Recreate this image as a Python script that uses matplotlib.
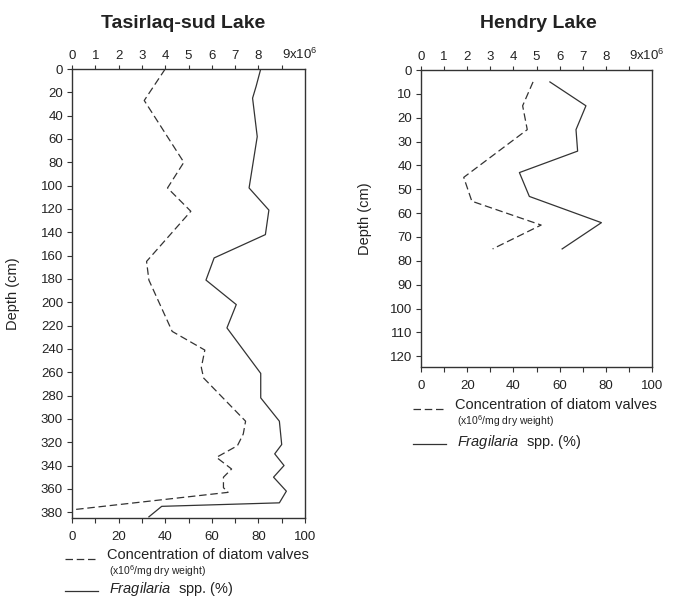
import numpy as np
import matplotlib
matplotlib.use('Agg')
import matplotlib.pyplot as plt
from matplotlib.lines import Line2D

plt.rcParams['font.family'] = ['Liberation Sans', 'DejaVu Sans']
plt.rcParams['mathtext.fontset'] = 'custom'
plt.rcParams['mathtext.rm'] = 'Liberation Sans'
plt.rcParams['mathtext.it'] = 'Liberation Sans:italic'

# Tasirlaq-sud Lake
tas_depth_frag = [0, 15, 25, 58, 102, 121, 142, 162, 181, 202, 222, 261, 282, 302,
                  322, 330, 340, 350, 362, 372, 375, 384]
tas_frag = [81, 79, 77.5, 79.5, 76, 84.5, 83, 61, 57.5, 70.5, 66.5, 81, 81, 89,
            90, 87, 91, 86.5, 92, 89, 38.5, 33]
tas_depth_conc = [0, 27, 80, 102, 122, 165, 181, 225, 241, 256, 265, 302, 313, 323,
                  333, 343, 350, 359, 363, 378]
tas_conc = [4.0, 3.1, 4.8, 4.1, 5.1, 3.2, 3.3, 4.3, 5.7, 5.55, 5.65, 7.45, 7.35, 7.1,
            6.2, 6.85, 6.5, 6.5, 6.7, 0]

# Hendry Lake
hen_depth_frag = [5, 15, 25, 34, 43, 53, 64, 75]
hen_frag = [55.8, 71.4, 67.1, 67.8, 42.6, 46.9, 78.1, 61.1]
hen_depth_conc = [5, 15, 25, 45, 55, 65, 75]
hen_conc = [4.85, 4.4, 4.6, 1.85, 2.2, 5.2, 3.1]

titles = ['Tasirlaq-sud Lake', 'Hendry Lake']
W, H = 678.0, 600.0
col = '#333333'


def draw_panel(rect, depth_f, frag, depth_c, conc, ymax, yticks, title, title_x):
    ax = fig.add_axes(rect)
    ax.plot(frag, depth_f, color=col, lw=0.9)
    ax.set_xlim(0, 100)
    ax.set_ylim(ymax, 0)
    ax.set_yticks(yticks)
    ax.set_xticks(np.arange(0, 101, 20))
    ax.set_xticks(np.arange(10, 100, 20), minor=True)
    ax.tick_params(axis='both', which='both', direction='out', length=3.5,
                   width=0.8, color=col, labelsize=9.5, labelcolor='#222222')
    ax.tick_params(axis='x', pad=6)
    ax.tick_params(axis='y', pad=3)
    for s in ax.spines.values():
        s.set_color(col)
        s.set_linewidth(1.0)
    ax.set_ylabel('Depth (cm)', fontsize=10.5, color='#222222')

    top = ax.twiny()
    top.plot(conc, depth_c, color=col, lw=0.9, dashes=(6, 3))
    top.set_xlim(0, 10)
    top.set_xticks(np.arange(0, 10))
    top.set_xticklabels([str(i) for i in range(9)] + ['9x10$^6$'])
    top.tick_params(axis='x', direction='out', length=3, width=0.8, color=col,
                    labelsize=9.5, labelcolor='#222222', pad=2)
    lbl = top.get_xticklabels()[-1]
    lbl.set_horizontalalignment('left')
    lbl.set_x(8.88)
    for s in top.spines.values():
        s.set_visible(False)
    ax.set_ylim(ymax, 0)
    fig.text(title_x / W, 1 - 23 / H, title, ha='center', va='center',
             fontsize=14, fontweight='bold', color='#222222')
    return ax


fig = plt.figure(figsize=(6.78, 6.0), dpi=100)

ax1 = draw_panel([72 / W, 1 - 518 / H, 233 / W, 449 / H], tas_depth_frag, tas_frag,
                 tas_depth_conc, tas_conc, 385, np.arange(0, 381, 20), titles[0], 183)
ax1.yaxis.set_label_coords(-0.223, 0.5)
ax2 = draw_panel([421 / W, 1 - 367 / H, 231 / W, 297 / H], hen_depth_frag, hen_frag,
                 hen_depth_conc, hen_conc, 124.5, np.arange(0, 121, 10), titles[1], 538)
ax2.yaxis.set_label_coords(-0.212, 0.5)


def legend(x0, y_dash, y_solid):
    fig.add_artist(Line2D([x0 / W, (x0 + 33) / W], [1 - y_dash / H, 1 - y_dash / H],
                          color=col, lw=0.9, dashes=(6, 3)))
    fig.text((x0 + 42) / W, 1 - (y_dash - 4) / H, 'Concentration of diatom valves',
             fontsize=10.5, ha='left', va='center', color='#222222')
    fig.text((x0 + 44) / W, 1 - (y_dash + 12) / H, '(x10$^6$/mg dry weight)',
             fontsize=7.5, ha='left', va='center', color='#222222')
    fig.add_artist(Line2D([x0 / W, (x0 + 33) / W], [1 - y_solid / H, 1 - y_solid / H],
                          color=col, lw=0.9))
    fig.text((x0 + 44) / W, 1 - (y_solid - 2) / H, '$\\it{Fragilaria}$  spp. (%)',
             fontsize=10.5, ha='left', va='center', color='#222222')


legend(65, 559, 591)
legend(413, 409, 444)

fig.savefig('out.png', dpi=100)
